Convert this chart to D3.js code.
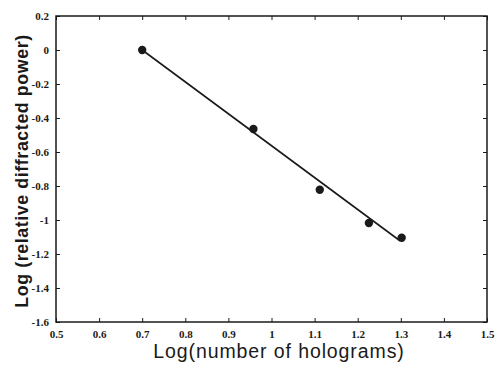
<!DOCTYPE html>
<html><head><meta charset="utf-8">
<script src="https://cdn.jsdelivr.net/npm/d3@7"></script>
<style>body{margin:0;background:#fff}</style>
</head><body>
<svg id="c" width="497" height="365"></svg>
<script>
const pointsX = [0.7, 0.958, 1.112, 1.226, 1.302];
const pointsY = [0, -0.465, -0.822, -1.018, -1.104];
const fitX = [0.7, 1.298];
const fitY = [0, -1.122];
const xTicks = [0.5, 0.6, 0.7, 0.8, 0.9, 1, 1.1, 1.2, 1.3, 1.4, 1.5];
const yTicks = [0.2, 0, -0.2, -0.4, -0.6, -0.8, -1, -1.2, -1.4, -1.6];
const xTitle = "Log(number of holograms)";
const yTitle = "Log (relative diffracted power)";

const svg = d3.select("#c");
const L = 56, R = 487, T = 16, B = 322;
const x = d3.scaleLinear().domain([0.5, 1.5]).range([L, R]);
const y = d3.scaleLinear().domain([-1.6, 0.2]).range([B, T]);
const ink = "#1a1a1a";

const fmt = d => d3.format("")(d).replace("−","-");

svg.append("g").attr("transform",`translate(0,${B})`)
  .call(d3.axisBottom(x).tickValues(xTicks).tickSize(-4).tickPadding(8).tickFormat(fmt))
  .call(g=>{g.select(".domain").remove();g.selectAll("line").attr("stroke",ink);
    g.selectAll("text").attr("font-family","Liberation Serif").attr("font-size",11).attr("font-weight","bold").attr("fill",ink);});
svg.append("g").attr("transform",`translate(0,${T})`)
  .call(d3.axisTop(x).tickValues(xTicks).tickSize(-4).tickFormat(""))
  .call(g=>{g.select(".domain").remove();g.selectAll("line").attr("stroke",ink);});
svg.append("g").attr("transform",`translate(${L},0)`)
  .call(d3.axisLeft(y).tickValues(yTicks).tickSize(-4).tickPadding(7).tickFormat(fmt))
  .call(g=>{g.select(".domain").remove();g.selectAll("line").attr("stroke",ink);
    g.selectAll("text").attr("font-family","Liberation Serif").attr("font-size",11).attr("font-weight","bold").attr("fill",ink);});
svg.append("g").attr("transform",`translate(${R},0)`)
  .call(d3.axisRight(y).tickValues(yTicks).tickSize(-4).tickFormat(""))
  .call(g=>{g.select(".domain").remove();g.selectAll("line").attr("stroke",ink);});

svg.append("rect").attr("x",L).attr("y",T).attr("width",R-L).attr("height",B-T)
  .attr("fill","none").attr("stroke",ink).attr("stroke-width",1.5);

const fit = fitX.map((d,i)=>[d,fitY[i]]);
svg.append("path").attr("d", d3.line().x(d=>x(d[0])).y(d=>y(d[1]))(fit))
  .attr("stroke",ink).attr("stroke-width",1.6).attr("fill","none");

svg.selectAll("circle.p").data(pointsX.map((d,i)=>[d,pointsY[i]])).enter()
  .append("circle").attr("cx",d=>x(d[0])).attr("cy",d=>y(d[1])).attr("r",4.2).attr("fill",ink);

svg.append("text").attr("x",279).attr("y",358).attr("text-anchor","middle")
  .attr("font-family","Liberation Sans").attr("font-size",19.5).attr("letter-spacing",0.9).attr("fill",ink).text(xTitle);
svg.append("text").attr("transform",`translate(28,171) rotate(-90)`).attr("text-anchor","middle")
  .attr("font-family","Liberation Sans").attr("font-size",17.8).attr("font-weight","bold").attr("letter-spacing",0.6).attr("fill",ink).text(yTitle);
</script>
</body></html>
